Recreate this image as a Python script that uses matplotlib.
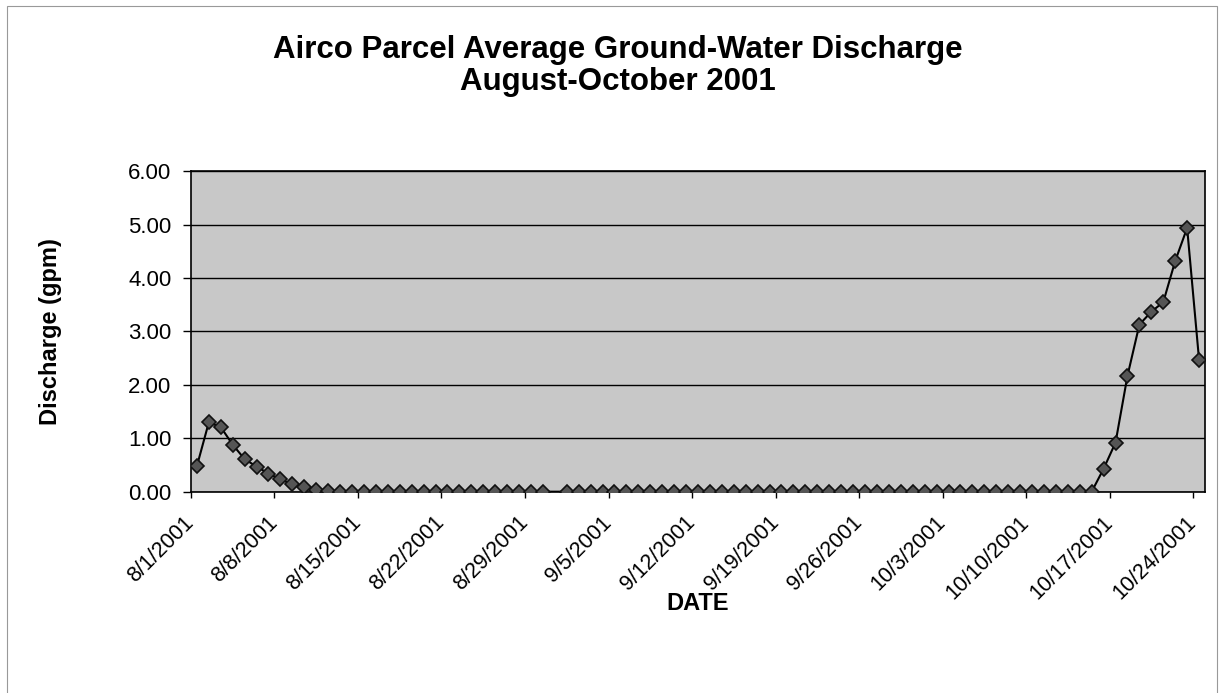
import numpy as np
import pandas as pd
import matplotlib.pyplot as plt
import matplotlib.transforms as mtransforms
from matplotlib.patches import Rectangle

plt.rcParams['font.family'] = ['Liberation Sans', 'DejaVu Sans']

# daily discharge, 8/1/2001 - 10/24/2001 (8/31 has no reading)
start = '2001-08-01'
end = '2001-10-24'
aug = [0.48, 1.30, 1.21, 0.88, 0.61, 0.47, 0.34, 0.23, 0.14, 0.08,
       0.03, 0.01, 0.00, 0.00, 0.00, 0.00, 0.00, 0.00, 0.00, 0.00,
       0.00, 0.00, 0.00, 0.00, 0.00, 0.00, 0.00, 0.00, 0.00, 0.00,
       np.nan]
sep = [0.00, 0.00, 0.00, 0.00, 0.00, 0.00, 0.00, 0.00, 0.00, 0.00,
       0.00, 0.00, 0.00, 0.00, 0.00, 0.00, 0.00, 0.00, 0.00, 0.00,
       0.00, 0.00, 0.00, 0.00, 0.00, 0.00, 0.00, 0.00, 0.00, 0.00]
octo = [0.00, 0.00, 0.00, 0.00, 0.00, 0.00, 0.00, 0.00, 0.00, 0.00,
        0.00, 0.00, 0.00, 0.00, 0.00, 0.43, 0.92, 2.17, 3.13, 3.37,
        3.55, 4.32, 4.94, 2.47]
tick_labels = ['8/1/2001', '8/8/2001', '8/15/2001', '8/22/2001', '8/29/2001',
               '9/5/2001', '9/12/2001', '9/19/2001', '9/26/2001', '10/3/2001',
               '10/10/2001', '10/17/2001', '10/24/2001']

dates = pd.date_range(start, end, freq='D')
values = np.array(aug + sep + octo)
day = (dates - dates[0]).days.values + 0.5   # points sit between day ticks
ok = ~np.isnan(values)

fig = plt.figure(figsize=(12.24, 6.93), dpi=100)
fig.patches.append(Rectangle((0.006, -0.01), 0.988, 1.0013, transform=fig.transFigure,
                             fill=False, edgecolor='#999999', linewidth=0.8))
ax = fig.add_axes([0.156, 0.2905, 0.8285, 0.4623])
ax.set_facecolor('#c8c8c8')

ax.plot(day[ok], values[ok], color='black', linewidth=1.5, marker='D',
        markersize=7.5, markerfacecolor='#555555', markeredgecolor='#111111',
        markeredgewidth=1.2, zorder=3)

ax.set_xlim(0, len(dates))
ax.set_ylim(0, 6)
ax.set_yticks(np.arange(0, 7, 1))
ax.set_yticklabels(['%.2f' % v for v in np.arange(0, 7, 1)], fontsize=16)
ax.set_xticks(np.arange(0, len(dates), 7))
ax.set_xticklabels(tick_labels, rotation=45, ha='right', va='center',
                   rotation_mode='anchor', fontsize=15.5)
shift = mtransforms.ScaledTranslation(-6 / 100, 0, fig.dpi_scale_trans)
for lab in ax.get_xticklabels():
    lab.set_transform(lab.get_transform() + shift)
ax.tick_params(axis='y', direction='out', length=6, width=1, pad=8, colors='black')
ax.tick_params(axis='x', direction='out', length=4, width=1, pad=16, colors='black')
ax.yaxis.grid(True, color='black', linewidth=1)
ax.set_axisbelow(True)
for s in ax.spines.values():
    s.set_linewidth(1.2)
    s.set_color('black')

ax.set_ylabel('Discharge (gpm)', fontsize=17, fontweight='bold')
ax.yaxis.set_label_coords(-0.127, 0.5)
ax.set_xlabel('DATE', fontsize=17, fontweight='bold')
ax.xaxis.set_label_coords(0.5, -0.313)
fig.text(0.505, 1 - 50 / 693, 'Airco Parcel Average Ground-Water Discharge',
         ha='center', va='center', fontsize=22.5, fontweight='bold')
fig.text(0.505, 1 - 82 / 693, 'August-October 2001',
         ha='center', va='center', fontsize=22.5, fontweight='bold')

plt.savefig('out.png')
